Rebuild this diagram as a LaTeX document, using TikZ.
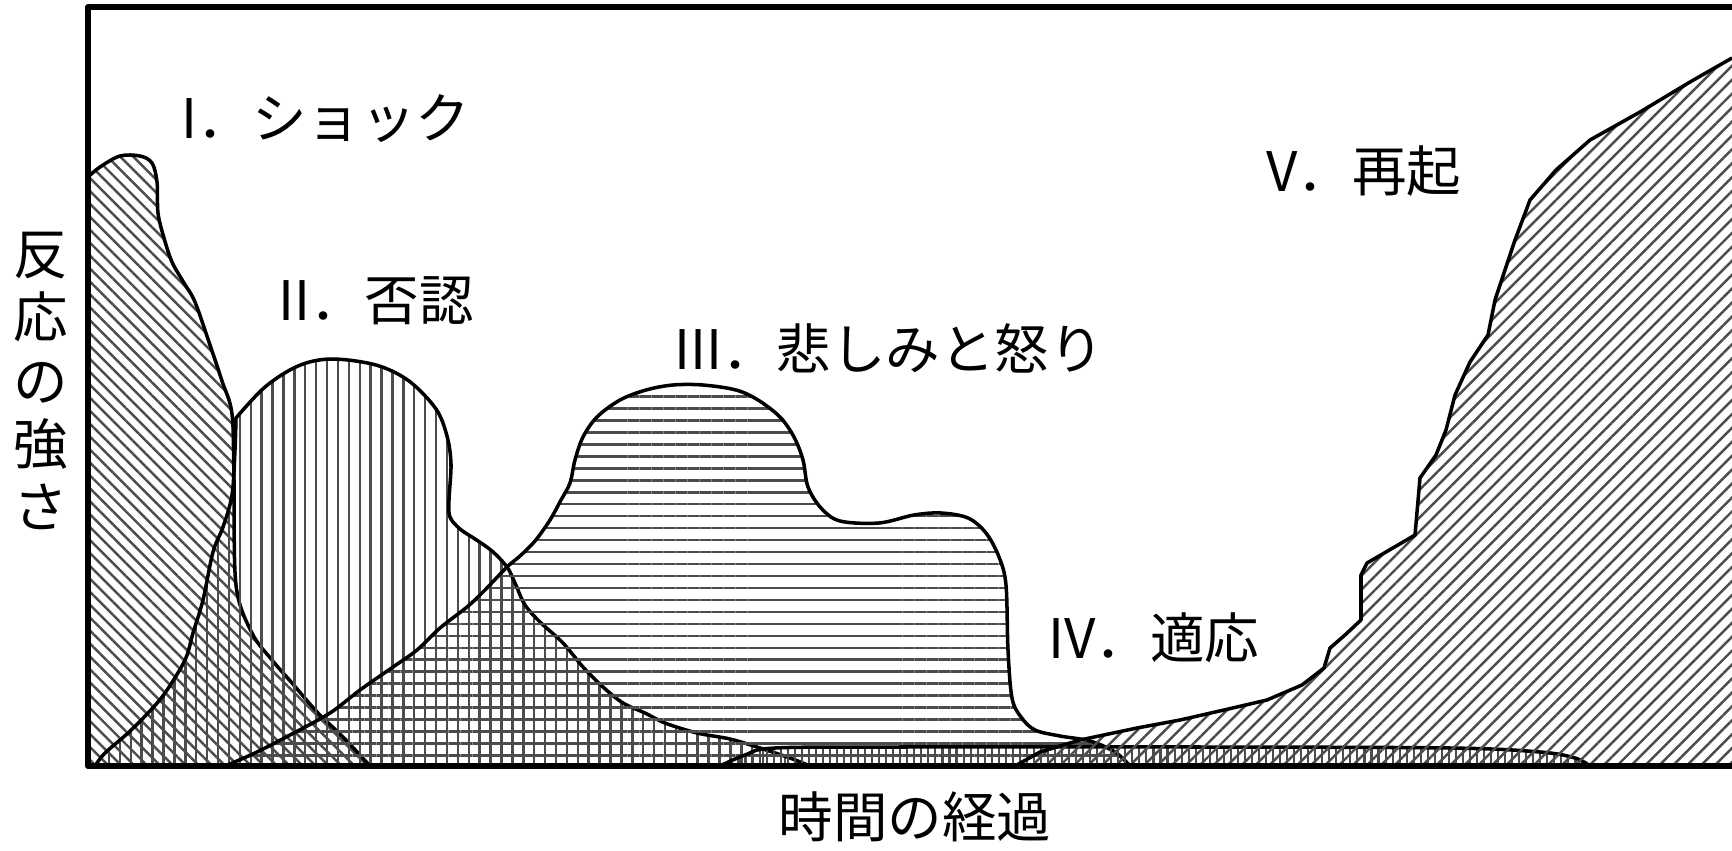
\documentclass[tikz,border=0pt]{standalone}
\usepackage{fontspec}
\setmainfont{Noto Sans CJK JP}
\usetikzlibrary{patterns.meta}

\begin{document}
\begin{tikzpicture}[x=0.01cm, y=-0.01cm, line join=round,
    outline/.style={draw=black, line width=1pt},
    stage/.style={font=\fontsize{15.5}{18}\selectfont, inner sep=0pt}]
            \useasboundingbox (0,0) rectangle (1732,851);
            % I
            \draw [outline, pattern = {Lines[angle=-45, distance=2.6pt, line width=0.7pt]}, pattern color = black!70] (88,766) -- plot [smooth, tension=0.55] coordinates {(88,177) (100,167) (120,156) (140,156) (152,163) (157,182) (158,213) (164,238) (172,262) (184,283) (195,302) (210,345) (222,381) (232,414) (234,480) (236,585) (252,633) (272,660) (292,683) (318,713) (343,737) (370,766)} -- cycle;
            % II
            \draw [outline, pattern = {Lines[angle=90, distance=3.1pt, line width=0.7pt]}, pattern color = black!70] (95,766) -- plot [smooth, tension=0.55] coordinates {(95,766) (105,753) (128,733) (148,713) (165,693) (185,660) (193,633) (203,600) (213,552) (223,527) (232,495) (235,450) (236,418)} -- plot [smooth, tension=0.55] coordinates {(236,418) (265,387) (298,366) (331,359) (376,365) (409,381) (436,409) (447,436) (451,464) (449,500) (450,517) (460,529) (475,539) (492,551) (507,567) (515,583) (525,605) (540,622) (563,643) (583,667) (603,687) (623,703) (645,713) (665,723) (697,733) (730,739) (760,748) (790,758) (810,766)} -- cycle;
            % III
            \draw [outline, pattern = {Lines[angle=0, distance=3.4pt, line width=0.7pt]}, pattern color = black!70] (225,766) -- plot [smooth, tension=0.55] coordinates {(225,766) (255,753) (290,735) (330,713) (360,690) (393,667) (417,650) (440,628) (467,607) (485,590) (507,567) (520,556) (535,541) (550,520) (561,500) (570,483) (575,460) (583,437) (597,417) (620,400) (646,390) (673,385) (703,385) (736,390) (758,400) (780,417) (794,437) (803,460) (808,487) (821,508) (840,521) (879,523) (914,515) (941,513) (968,518) (986,533) (999,557) (1006,585) (1008,650) (1012,698) (1021,717) (1035,730) (1060,736) (1090,741) (1115,752) (1130,766)} -- cycle;
            % IV
            \draw [outline, pattern = {Lines[angle=90, distance=2pt, line width=0.6pt]}, pattern color = black!70] (720,766) -- plot [smooth, tension=0.55] coordinates {(720,766) (745,755) (775,748) (900,747) (1200,747) (1450,748) (1540,752) (1575,758) (1590,766)} -- cycle;
            % V
            \path [pattern = {Lines[angle=45, distance=2.8pt, line width=0.7pt]}, pattern color = black!70] (1015,766) -- (1040,752) -- (1080,740) -- (1137,728) -- (1180,720) -- (1224,710) -- (1267,700) -- (1302,685) -- (1324,668) -- (1330,648) -- (1345,635) -- (1361,620) -- (1361,575) -- (1367,563) -- (1398,545) -- (1415,535) -- (1420,478) -- (1436,455) -- (1446,430) -- (1455,395) -- (1470,362) -- (1488,335) -- (1495,300) -- (1505,270) -- (1515,240) -- (1530,200) -- (1556,170) -- (1590,140) -- (1640,112) -- (1690,82) -- (1732,58) -- (1732,766) -- cycle;
            \draw [outline] (1015,766) -- (1040,752) -- (1080,740) -- (1137,728) -- (1180,720) -- (1224,710) -- (1267,700) -- (1302,685) -- (1324,668) -- (1330,648) -- (1345,635) -- (1361,620) -- (1361,575) -- (1367,563) -- (1398,545) -- (1415,535) -- (1420,478) -- (1436,455) -- (1446,430) -- (1455,395) -- (1470,362) -- (1488,335) -- (1495,300) -- (1505,270) -- (1515,240) -- (1530,200) -- (1556,170) -- (1590,140) -- (1640,112) -- (1690,82) -- (1732,58);
            % frame
            \draw [line width=1.7pt] (1732,7) -- (88,7) -- (88,766) -- (1732,766);
            \node [stage] (shock) at (326,119) {I．ショック};
            \node [stage] (denial) at (376,301) {II．否認};
            \node [stage] (anger) at (889,348) {III．悲しみと怒り};
            \node [stage] (adapt) at (1154,638) {IV．適応};
            \node [stage] (recover) at (1364,171) {V．再起};
            \node [stage] (xlabel) at (915,817) {時間の経過};
            \node [stage, align=center] (ylabel) at (41,381) {反\\応\\の\\強\\さ};
        \end{tikzpicture}
\end{document}
